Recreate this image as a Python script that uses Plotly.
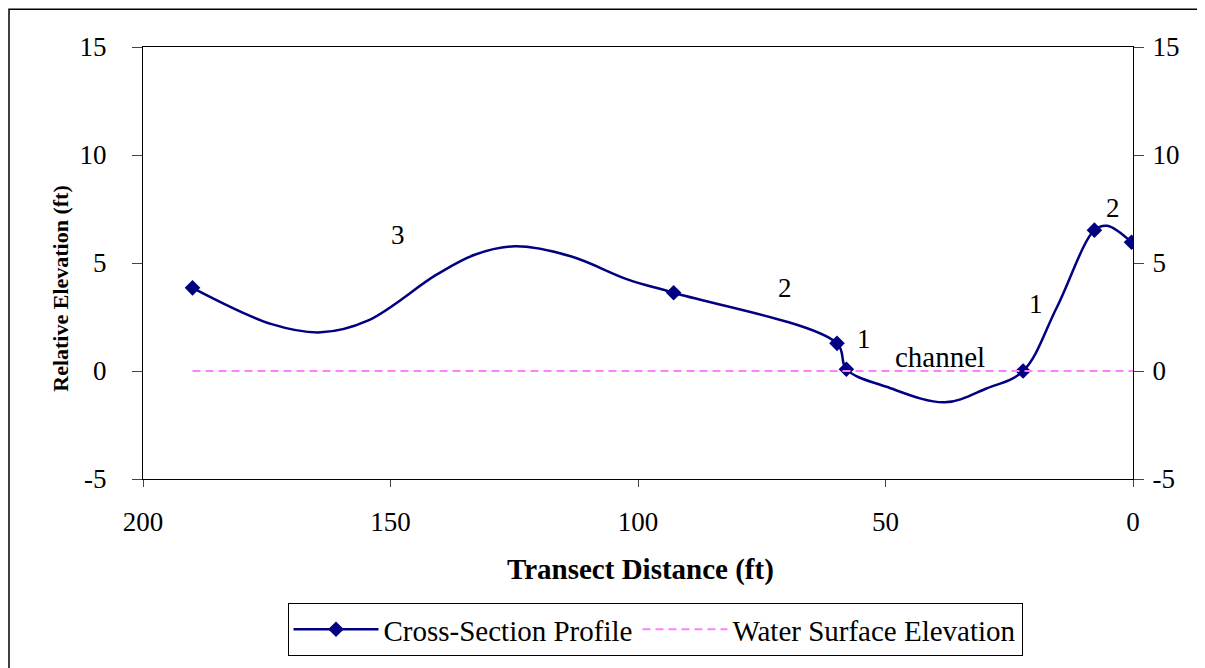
import plotly.graph_objects as go

# Surveyed points (shown with markers)
survey_dist = [190.0, 92.8, 59.8, 57.9, 22.2, 7.8, 0.3]
survey_elev = [3.85, 3.62, 1.28, 0.08, 0.0, 6.52, 5.96]

# Smoothed profile shape (passes through the surveyed points)
profile_dist = [190.0, 174.0, 164.1, 154.6, 140.7, 133.0, 124.8, 113.6, 102.0, 92.8,
                59.8, 57.9, 49.8, 38.0, 29.6, 22.2, 15.4, 7.8, 5.2, 0.3]
profile_elev = [3.85, 2.17, 1.79, 2.33, 4.46, 5.38, 5.77, 5.31, 4.23, 3.62,
                1.28, 0.08, -0.73, -1.45, -0.81, 0.0, 2.94, 6.52, 6.72, 5.96]

# Water surface
water_dist = [190.0, 0.0]
water_elev = [0.0, 0.0]

# Axis ticks
x_ticks = [200, 150, 100, 50, 0]
x_tick_text = ["200", "150", "100", "50", "0"]
y_ticks = [-5, 0, 5, 10, 15]
y_tick_text = ["-5", "0", "5", "10", "15"]

# Zone labels
label_text = ["3", "2", "1", "channel", "1", "2"]
label_dist = [148.5, 70.3, 54.3, 39.0, 19.6, 4.0]
label_elev = [6.3, 3.85, 1.47, 0.65, 3.12, 7.55]

NAVY = "#000080"
MAGENTA = "#FF80FF"
FONT = "Liberation Serif"

# page is offset by the 8px body margin; plot area target (screen px): x 143..1133, y 47..483
OFF = 8
PL, PR, PT, PB = 143, 1133, 47, 483
W, H = 1205 - OFF, 668 - OFF
PW, PH = PR - PL, PB - PT


def px(x):
    return (x - PL) / PW


def py(y):
    return (PB - y) / PH


fig = go.Figure()

fig.add_trace(go.Scatter(
    x=profile_dist, y=profile_elev, mode="lines",
    line=dict(color=NAVY, width=2.5, shape="spline", smoothing=1.0),
    showlegend=False, hoverinfo="skip"))

fig.add_trace(go.Scatter(
    x=survey_dist, y=survey_elev, mode="markers",
    marker=dict(symbol="diamond", size=12, color=NAVY),
    showlegend=False))

fig.add_trace(go.Scatter(
    x=[None], y=[None], mode="lines+markers", name="Cross-Section Profile",
    line=dict(color=NAVY, width=2.5),
    marker=dict(symbol="diamond", size=12, color=NAVY)))

fig.add_trace(go.Scatter(
    x=water_dist, y=water_elev, mode="lines", name="Water Surface Elevation",
    line=dict(color=MAGENTA, width=2, dash="8px,5px"), yaxis="y2"))

for t, xv, yv in zip(label_text, label_dist, label_elev):
    fig.add_annotation(x=xv, y=yv, text=t, showarrow=False,
                       xanchor="center", yanchor="middle",
                       font=dict(family=FONT, size=29 if t == "channel" else 27, color="black"))

# Axis titles
fig.add_annotation(xref="paper", yref="paper", x=px(61), y=py(291),
                   xanchor="center", yanchor="middle",
                   text="<b>Relative Elevation (ft)</b>", textangle=-90, showarrow=False,
                   font=dict(family=FONT, size=22, color="black"))
fig.add_annotation(xref="paper", yref="paper", x=px(640), y=py(574),
                   xanchor="center", yanchor="middle",
                   text="<b>Transect Distance (ft)</b>", showarrow=False,
                   font=dict(family=FONT, size=29, color="black"))

# Outer frame
fig.add_shape(type="rect", xref="paper", yref="paper",
              x0=px(9), x1=px(1260), y0=py(720), y1=py(9),
              line=dict(color="black", width=1.5), fillcolor="rgba(0,0,0,0)")

tickfont = dict(family=FONT, size=27, color="black")

fig.update_layout(
    width=W, height=H, autosize=False,
    margin=dict(l=PL - OFF, r=W + OFF - PR, t=PT - OFF, b=H + OFF - PB, pad=0),
    paper_bgcolor="white", plot_bgcolor="white",
    font=dict(family=FONT, color="black"),
    xaxis=dict(range=[200, 0], tickvals=x_ticks, ticktext=x_tick_text,
               showgrid=False, zeroline=False,
               showline=True, linecolor="black", linewidth=1.2, mirror=True,
               ticks="outside", ticklen=7, tickcolor="#444", tickfont=tickfont,
               ticklabelstandoff=11),
    yaxis=dict(range=[-5, 15], tickvals=y_ticks, ticktext=y_tick_text,
               showgrid=False, zeroline=False,
               showline=True, linecolor="black", linewidth=1.2,
               ticks="outside", ticklen=10, tickcolor="#444", tickfont=tickfont,
               ticklabelstandoff=20),
    yaxis2=dict(range=[-5, 15], tickvals=y_ticks, ticktext=y_tick_text,
                overlaying="y", side="right",
                showgrid=False, zeroline=False,
                showline=True, linecolor="black", linewidth=1.2,
                ticks="outside", ticklen=10, tickcolor="#444", tickfont=tickfont,
                ticklabelstandoff=3),
    legend=dict(orientation="h", x=px(655), xanchor="center",
                y=py(608), yanchor="top",
                bordercolor="black", borderwidth=1, bgcolor="white",
                font=dict(family=FONT, size=29, color="black"),
                itemwidth=85),
    showlegend=True,
)

fig.write_html("out.html")
